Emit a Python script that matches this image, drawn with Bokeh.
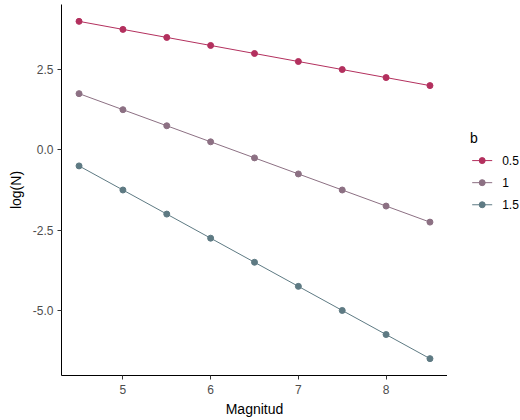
from bokeh.plotting import figure
from bokeh.layouts import row
from bokeh.models import Range1d, FixedTicker, PrintfTickFormatter
from bokeh.core.properties import value
from bokeh.embed import file_html
from bokeh.resources import INLINE

magnitud = [4.5, 5.0, 5.5, 6.0, 6.5, 7.0, 7.5, 8.0, 8.5]
logN_b05 = [4.0, 3.75, 3.5, 3.25, 3.0, 2.75, 2.5, 2.25, 2.0]
logN_b1 = [1.75, 1.25, 0.75, 0.25, -0.25, -0.75, -1.25, -1.75, -2.25]
logN_b15 = [-0.5, -1.25, -2.0, -2.75, -3.5, -4.25, -5.0, -5.75, -6.5]
series_labels = ["0.5", "1", "1.5"]
series_values = [logN_b05, logN_b1, logN_b15]
colors = ["#B3305E", "#8C7083", "#5E7A83"]
legend_title = "b"

p = figure(width=447, height=420, output_backend="svg", toolbar_location=None,
           x_range=Range1d(4.3, 8.7), y_range=Range1d(-7.025, 4.525),
           min_border_left=61, min_border_top=4, min_border_bottom=45, min_border_right=0)
p.outline_line_color = None
p.background_fill_color = "white"
p.border_fill_color = "white"
p.xgrid.visible = False
p.ygrid.visible = False

for vals, col in zip(series_values, colors):
    p.line(magnitud, vals, line_color=col, line_width=1)
    p.scatter(magnitud, vals, size=6, fill_color=col, line_color=col)

for ax in (p.xaxis[0], p.yaxis[0]):
    ax.axis_line_color = "black"
    ax.axis_line_width = 1
    ax.major_tick_line_color = "#333333"
    ax.major_tick_out = 4
    ax.major_tick_in = 0
    ax.minor_tick_line_color = None
    ax.major_label_text_font = "Liberation Sans"
    ax.major_label_text_font_size = "12px"
    ax.major_label_text_color = "#4D4D4D"
    ax.axis_label_text_font = "Liberation Sans"
    ax.axis_label_text_font_size = "14px"
    ax.axis_label_text_font_style = "normal"
    ax.axis_label_text_color = "black"

p.xaxis.ticker = FixedTicker(ticks=[5, 6, 7, 8])
p.yaxis.ticker = FixedTicker(ticks=[-5.0, -2.5, 0.0, 2.5])
p.yaxis.formatter = PrintfTickFormatter(format="%.1f")
p.xaxis.axis_label = "Magnitud"
p.yaxis.axis_label = "log(N)"
p.xaxis.major_label_standoff = 5
p.yaxis.major_label_standoff = 4
p.xaxis.axis_label_standoff = 4
p.yaxis.axis_label_standoff = 6

# legend panel (pixel coordinates, y downward)
lg = figure(width=73, height=420, output_backend="svg", toolbar_location=None,
            x_range=Range1d(0, 73), y_range=Range1d(420, 0),
            x_axis_type=None, y_axis_type=None,
            min_border_left=0, min_border_right=0, min_border_top=0, min_border_bottom=0)
lg.outline_line_color = None
lg.xgrid.visible = False
lg.ygrid.visible = False
lg.border_fill_color = "white"

row_y = [176.7 + 25 * i for i in range(len(series_labels))]
lg.text(x=[22.5], y=[151.5], text=[legend_title], text_font=value("Liberation Sans"),
        text_font_size="14px", text_baseline="middle", text_align="left", text_color="black")
lg.segment(x0=[24.7] * len(row_y), y0=row_y, x1=[44.7] * len(row_y), y1=row_y,
           line_color=colors, line_width=1)
lg.scatter(x=[34.7] * len(row_y), y=row_y, size=6, fill_color=colors, line_color=colors)
lg.text(x=[54.7] * len(row_y), y=row_y, text=series_labels, text_font=value("Liberation Sans"),
        text_font_size="12px", text_baseline="middle", text_align="left", text_color="black")

layout = row(p, lg, spacing=0)
open("out.html", "w").write(file_html(layout, INLINE))
